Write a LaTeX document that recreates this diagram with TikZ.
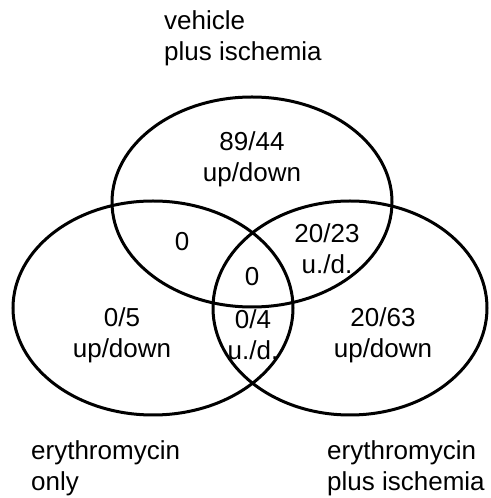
\documentclass[tikz,border=0pt]{standalone}
\usepackage{fontspec}
\setmainfont{Liberation Sans}
\begin{document}
\begin{tikzpicture}[x=1pt,y=1pt,
  venn/.style={line width=3pt},
  lbl/.style={inner sep=0pt,align=center,font=\fontsize{26}{31}\selectfont},
  setname/.style={inner sep=0pt,align=left,anchor=west,font=\fontsize{26}{31}\selectfont}]
\useasboundingbox (0,0) rectangle (490,498);
\coordinate (ctop) at (252,296);
\coordinate (cleft) at (153,190);
\coordinate (cright) at (350,190);
\draw[venn] (ctop) ellipse [x radius=140, y radius=105];
\draw[venn] (cleft) ellipse [x radius=140, y radius=107];
\draw[venn] (cright) ellipse [x radius=137, y radius=107];
\node[setname] (tv) at (164,460) {vehicle\\plus ischemia};
\node[setname] (te) at (31,30) {erythromycin\\only};
\node[setname] (tei) at (327,30) {erythromycin\\plus ischemia};
\node[lbl] (a) at (252,339) {89/44\\up/down};
\node[lbl] (b) at (182,256) {0};
\node[lbl] (c) at (327,249) {20/23\\u./d.};
\node[lbl] (d) at (252,221) {0};
\node[lbl] (e) at (122,163) {0/5\\up/down};
\node[lbl] (f) at (253,163) {0/4\\u./d.};
\node[lbl] (g) at (383,163) {20/63\\up/down};
\end{tikzpicture}
\end{document}
